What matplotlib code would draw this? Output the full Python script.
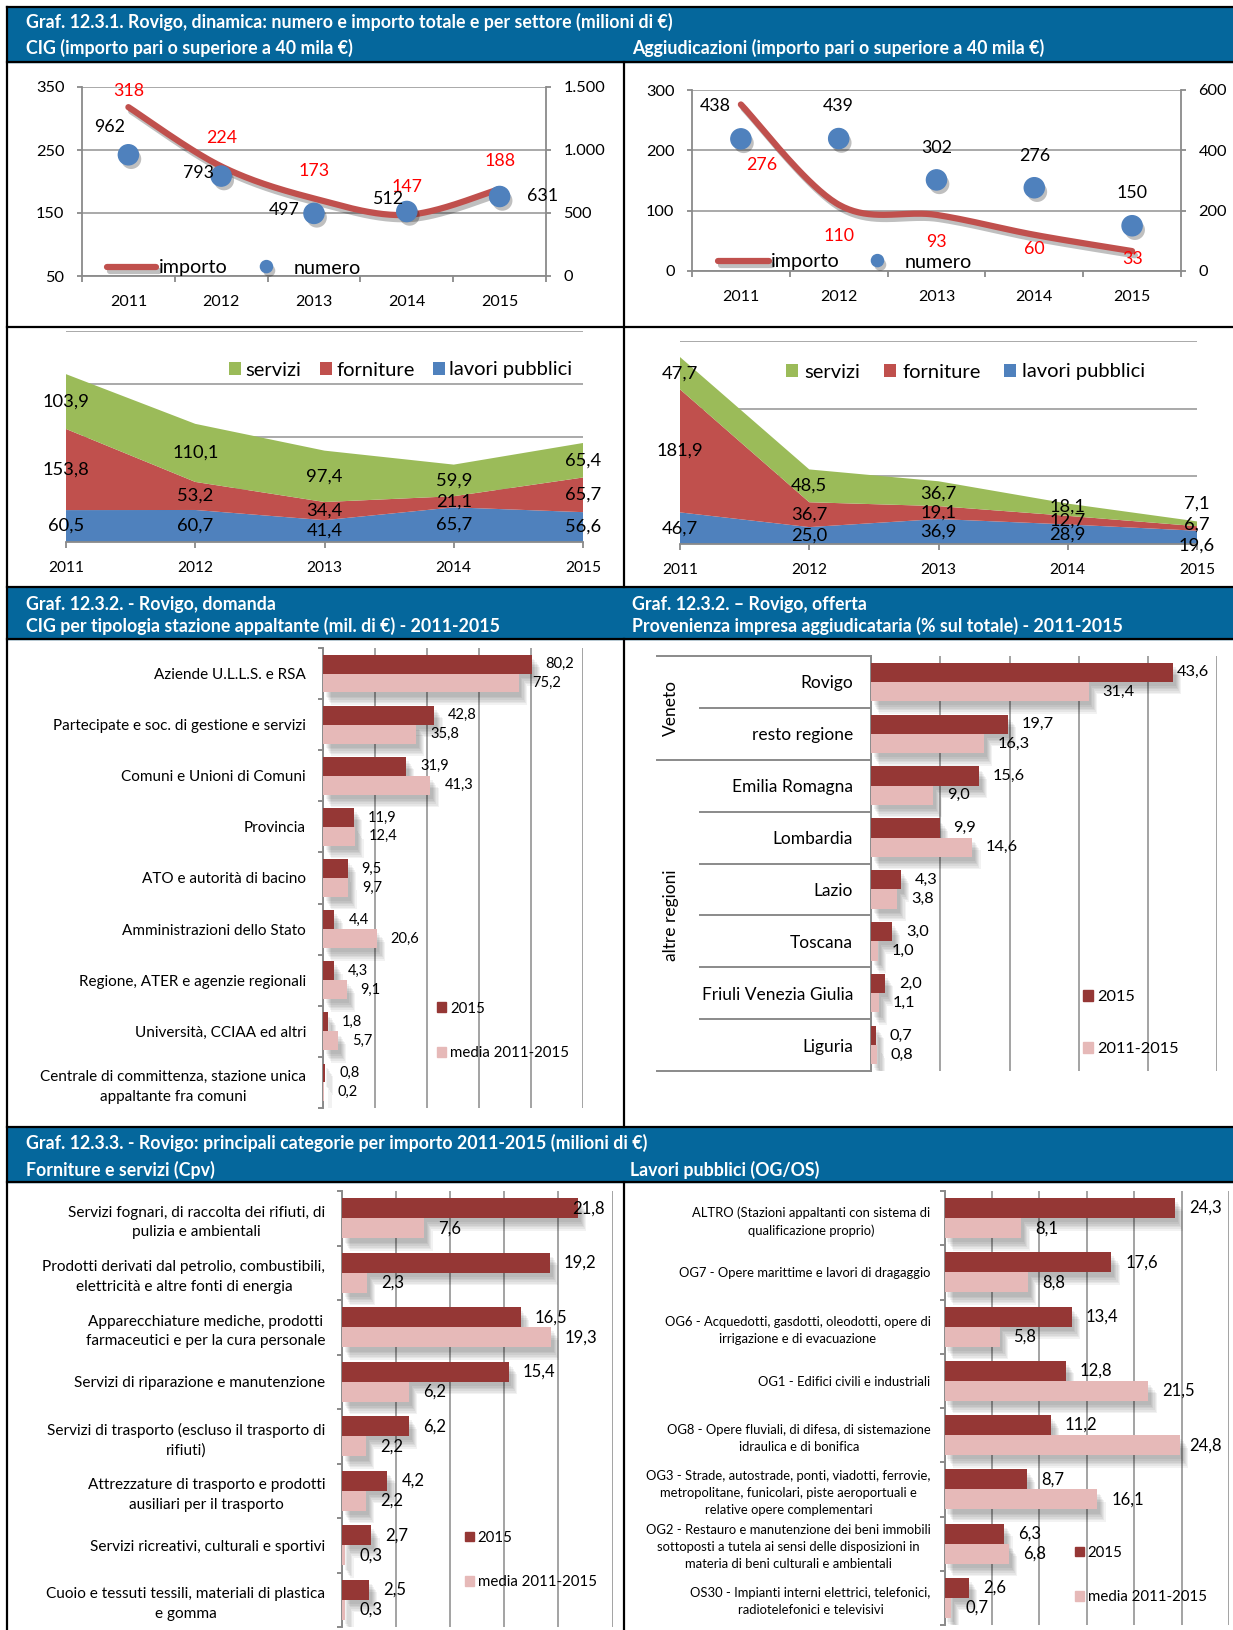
import numpy as np
import matplotlib
matplotlib.use("Agg")
import matplotlib.pyplot as plt
from matplotlib import patheffects as pe
from matplotlib import transforms as mtransforms
from matplotlib.lines import Line2D
from matplotlib.patches import Patch, Rectangle

plt.rcParams["font.family"] = ["Lato", "DejaVu Sans"]

W, H = 1233, 1630

# ---------------- data ----------------
years = ["2011", "2012", "2013", "2014", "2015"]

cig_importo = [318, 224, 173, 147, 188]
cig_numero = [962, 793, 497, 512, 631]
agg_importo = [276, 110, 93, 60, 33]
agg_numero = [438, 439, 302, 276, 150]

cig_lavori = [60.5, 60.7, 41.4, 65.7, 56.6]
cig_forniture = [153.8, 53.2, 34.4, 21.1, 65.7]
cig_servizi = [103.9, 110.1, 97.4, 59.9, 65.4]

agg_lavori = [46.7, 25.0, 36.9, 28.9, 19.6]
agg_forniture = [181.9, 36.7, 19.1, 12.7, 6.7]
agg_servizi = [47.7, 48.5, 36.7, 18.1, 7.1]

stazioni = [
    "Aziende U.L.L.S. e RSA",
    "Partecipate e soc. di gestione e servizi",
    "Comuni e Unioni di Comuni",
    "Provincia",
    "ATO e autorità di bacino",
    "Amministrazioni dello Stato",
    "Regione, ATER e agenzie regionali",
    "Università, CCIAA ed altri",
    "Centrale di committenza, stazione unica\nappaltante fra comuni",
]
stazioni_2015 = [80.2, 42.8, 31.9, 11.9, 9.5, 4.4, 4.3, 1.8, 0.8]
stazioni_media = [75.2, 35.8, 41.3, 12.4, 9.7, 20.6, 9.1, 5.7, 0.2]

provenienza = ["Rovigo", "resto regione", "Emilia Romagna", "Lombardia",
               "Lazio", "Toscana", "Friuli Venezia Giulia", "Liguria"]
provenienza_2015 = [43.6, 19.7, 15.6, 9.9, 4.3, 3.0, 2.0, 0.7]
provenienza_periodo = [31.4, 16.3, 9.0, 14.6, 3.8, 1.0, 1.1, 0.8]
gruppi_regioni = ["Veneto", "altre regioni"]
gruppi_dimensione = [2, 6]

cpv = [
    "Servizi fognari, di raccolta dei rifiuti, di\npulizia e ambientali",
    "Prodotti derivati dal petrolio, combustibili,\nelettricità e altre fonti di energia",
    "Apparecchiature mediche, prodotti\nfarmaceutici e per la cura personale",
    "Servizi di riparazione e manutenzione",
    "Servizi di trasporto (escluso il trasporto di\nrifiuti)",
    "Attrezzature di trasporto e prodotti\nausiliari per il trasporto",
    "Servizi ricreativi, culturali e sportivi",
    "Cuoio e tessuti tessili, materiali di plastica\ne gomma",
]
cpv_2015 = [21.8, 19.2, 16.5, 15.4, 6.2, 4.2, 2.7, 2.5]
cpv_media = [7.6, 2.3, 19.3, 6.2, 2.2, 2.2, 0.3, 0.3]

ogos = [
    "ALTRO (Stazioni appaltanti con sistema di\nqualificazione proprio)",
    "OG7 - Opere marittime e lavori di dragaggio",
    "OG6 - Acquedotti, gasdotti, oleodotti, opere di\nirrigazione e di evacuazione",
    "OG1 - Edifici civili e industriali",
    "OG8 - Opere fluviali, di difesa, di sistemazione\nidraulica e di bonifica",
    "OG3 - Strade, autostrade, ponti, viadotti, ferrovie,\nmetropolitane, funicolari, piste aeroportuali e\nrelative opere complementari",
    "OG2 - Restauro e manutenzione dei beni immobili\nsottoposti a tutela ai sensi delle disposizioni in\nmateria di beni culturali e ambientali",
    "OS30 - Impianti interni elettrici, telefonici,\nradiotelefonici e televisivi",
]
ogos_2015 = [24.3, 17.6, 13.4, 12.8, 11.2, 8.7, 6.3, 2.6]
ogos_media = [8.1, 8.8, 5.8, 21.5, 24.8, 16.1, 6.8, 0.7]

# ---------------- style ----------------
BAND = "#05679c"
LINE_RED = "#c0504d"
MARK_BLUE = "#4f81bd"
AREA_GREEN = "#9bbb59"
AREA_RED = "#c0504d"
AREA_BLUE = "#4f81bd"
BAR_DARK = "#953735"
BAR_PINK = "#e6b9b8"
GRID_GREY = "#a3a3a3"
AXIS_GREY = "#8a8a8a"

BAR_SHADOW = [pe.SimplePatchShadow(offset=(2 + 0.8 * k, -(3 + 1.2 * k)),
                                   shadow_rgbFace="black", alpha=0.05)
              for k in range(6)] + [pe.Normal()]

fig = plt.figure(figsize=(W / 100, H / 100), dpi=100)
fig.patch.set_facecolor("white")


def fx(x):
    return x / W


def fy(y):
    return 1 - y / H


def px_axes(x0, y0, x1, y1):
    return fig.add_axes([x0 / W, 1 - y1 / H, (x1 - x0) / W, (y1 - y0) / H])


def dec(v):
    return f"{v:.1f}".replace(".", ",")


def thousands(v):
    return f"{v:,}".replace(",", ".")


def smooth(xs, ys, n=40):
    pts = np.column_stack([xs, ys]).astype(float)
    P = np.vstack([pts[0], pts, pts[-1]])
    out = []
    t = np.linspace(0, 1, n)[:, None]
    for i in range(1, len(P) - 2):
        p0, p1, p2, p3 = P[i - 1], P[i], P[i + 1], P[i + 2]
        c1 = p1 + (p2 - p0) / 6
        c2 = p2 - (p3 - p1) / 6
        seg = (1 - t) ** 3 * p1 + 3 * (1 - t) ** 2 * t * c1 + 3 * (1 - t) * t ** 2 * c2 + t ** 3 * p2
        out.append(seg if i == 1 else seg[1:])
    return np.vstack(out)


# ---------------- frame and title bands ----------------
for y0, y1 in [(7, 62), (587, 639), (1127, 1182)]:
    fig.add_artist(Rectangle((fx(7), fy(y1)), (W - 7) / W, (y1 - y0) / H,
                             transform=fig.transFigure, color=BAND, zorder=0))


def frame_line(xs, ys):
    fig.add_artist(Line2D([fx(v) for v in xs], [fy(v) for v in ys],
                          color="black", lw=1.6, zorder=10))


for y in [7, 62, 327, 587, 639, 1127, 1182]:
    frame_line([7, W], [y, y])
frame_line([7, 7], [7, H])
for y0, y1 in [(62, 587), (639, 1127), (1182, H)]:
    frame_line([624, 624], [y0, y1])

TITLE_KW = dict(color="white", weight="bold", fontsize=12.8, va="center", ha="left")
fig.text(fx(26), fy(22), "Graf. 12.3.1. Rovigo, dinamica: numero e importo totale e per settore (milioni di €)", **TITLE_KW)
fig.text(fx(26), fy(48), "CIG (importo pari o superiore a 40 mila €)", **TITLE_KW)
fig.text(fx(632), fy(48), "Aggiudicazioni (importo pari o superiore a 40 mila €)", **TITLE_KW)
fig.text(fx(26), fy(604), "Graf. 12.3.2. - Rovigo, domanda", **TITLE_KW)
fig.text(fx(26), fy(626), "CIG per tipologia stazione appaltante (mil. di €) - 2011-2015", **TITLE_KW)
fig.text(fx(632), fy(604), "Graf. 12.3.2. – Rovigo, offerta", **TITLE_KW)
fig.text(fx(632), fy(626), "Provenienza impresa aggiudicataria (% sul totale) - 2011-2015", **TITLE_KW)
fig.text(fx(26), fy(1143), "Graf. 12.3.3. - Rovigo: principali categorie per importo 2011-2015 (milioni di €)", **TITLE_KW)
fig.text(fx(26), fy(1170), "Forniture e servizi (Cpv)", **TITLE_KW)
fig.text(fx(630), fy(1170), "Lavori pubblici (OG/OS)", **TITLE_KW)


# ---------------- line + marker panels ----------------
def line_panel(box, importo, numero, lim_l, ticks_l, lim_r, ticks_r,
               off_imp, off_num, leg_anchor, leg_kw):
    ax = px_axes(*box)
    ax2 = ax.twinx()
    x = np.arange(len(years))
    for a in (ax, ax2):
        a.set_xlim(-0.5, len(years) - 0.5)
        for s in a.spines.values():
            s.set_visible(False)
    ax.set_ylim(*lim_l)
    ax2.set_ylim(*lim_r)
    ax.set_yticks(ticks_l, labels=[thousands(t) for t in ticks_l])
    ax2.set_yticks(ticks_r, labels=[thousands(t) for t in ticks_r])
    for s in (ax.spines["left"], ax.spines["bottom"], ax2.spines["right"]):
        s.set_visible(True)
        s.set_color(AXIS_GREY)
        s.set_linewidth(1.3)
    ax.yaxis.grid(True, color=GRID_GREY, lw=1.3)
    ax.set_axisbelow(True)
    ax.set_xticks(x, labels=years)
    ax.set_xticks(np.arange(-0.5, len(years)), minor=True)
    ax.tick_params(axis="x", which="major", length=0, pad=13.5, labelsize=11.5)
    ax.tick_params(axis="x", which="minor", length=4.5, width=1.3, color=AXIS_GREY)
    for a in (ax, ax2):
        a.tick_params(axis="y", length=3.6, width=1.3, color=AXIS_GREY, pad=9, labelsize=11.8)

    curve = smooth(x, importo)
    ln, = ax.plot(curve[:, 0], curve[:, 1], color=LINE_RED, lw=4.5,
                  solid_capstyle="round", zorder=3,
                  path_effects=[pe.SimpleLineShadow(offset=(2, -3), shadow_color="black", alpha=0.25),
                                pe.Normal()])
    mk, = ax2.plot(x, numero, ls="none", marker="o", ms=14.5, mfc=MARK_BLUE, mec=MARK_BLUE,
                   zorder=4,
                   path_effects=[pe.SimplePatchShadow(offset=(2, -3), shadow_rgbFace="black", alpha=0.25),
                                 pe.Normal()])
    for i, v in enumerate(importo):
        ax2.annotate(str(v), (x[i], (v - lim_l[0]) / (lim_l[1] - lim_l[0]) * (lim_r[1] - lim_r[0]) + lim_r[0]),
                     xytext=off_imp[i], textcoords="offset pixels",
                     ha="center", va="center", color="red", fontsize=12.8, zorder=6)
    for i, v in enumerate(numero):
        ax2.annotate(str(v), (x[i], v), xytext=off_num[i], textcoords="offset pixels",
                     ha="center", va="center", color="black", fontsize=12.8, zorder=6)
    ax2.legend([ln, mk], ["importo", "numero"], loc="center left",
               bbox_to_anchor=(fx(leg_anchor[0]), fy(leg_anchor[1])),
               bbox_transform=fig.transFigure, ncol=2, frameon=False,
               borderpad=0, borderaxespad=0, fontsize=14.2, markerscale=0.6, **leg_kw)


line_panel((82, 87, 546, 276), cig_importo, cig_numero,
           (50, 350), [50, 150, 250, 350], (0, 1500), [0, 500, 1000, 1500],
           off_imp=[(0, 16), (0, 28), (0, 28), (0, 28), (0, 28)],
           off_num=[(-19, 28), (-23, 3), (-30, 3), (-19.5, 12), (43, 0)],
           leg_anchor=(107, 268),
           leg_kw=dict(handlelength=2.5, handletextpad=0.15, columnspacing=0.7))

line_panel((692, 90, 1181, 271), agg_importo, agg_numero,
           (0, 300), [0, 100, 200, 300], (0, 600), [0, 200, 400, 600],
           off_imp=[(21, -61), (0, -31), (0, -27), (0, -14), (0, -8)],
           off_num=[(-26, 33), (0, 33), (0, 32), (0, 32), (0, 33)],
           leg_anchor=(718, 262),
           leg_kw=dict(handlelength=2.6, handletextpad=0.1, columnspacing=0.6))


# ---------------- stacked area panels ----------------
def area_panel(box, lavori, forniture, servizi, ymax, shifts, leg_anchor, colspacing, textpad):
    ax = px_axes(*box)
    x = np.arange(len(years))
    series = [lavori, forniture, servizi]
    polys = ax.stackplot(x, *series, colors=[AREA_BLUE, AREA_RED, AREA_GREEN], lw=0, zorder=2)
    ax.set_xlim(0, len(years) - 1)
    ax.set_ylim(0, ymax)
    ax.set_yticks(np.arange(100, ymax + 1, 100))
    ax.yaxis.grid(True, color=GRID_GREY, lw=1.3)
    ax.set_axisbelow(True)
    ax.tick_params(axis="y", left=False, labelleft=False)
    for s in ("left", "right", "top"):
        ax.spines[s].set_visible(False)
    ax.spines["bottom"].set_color(AXIS_GREY)
    ax.spines["bottom"].set_linewidth(1.3)
    ax.set_xticks(x, labels=years)
    ax.tick_params(axis="x", length=4, width=1.3, color=AXIS_GREY, pad=9.5, labelsize=11.2)
    base = np.zeros(len(years))
    for k, s in enumerate(series):
        s = np.asarray(s, float)
        mid = base + s / 2
        for i in range(len(years)):
            ax.annotate(dec(s[i]), (x[i], mid[i]), xytext=(0, shifts.get((k, i), 0)),
                        textcoords="offset pixels", ha="center", va="center",
                        fontsize=13.2, annotation_clip=False, zorder=5)
        base += s
    ax.legend([polys[2], polys[1], polys[0]], ["servizi", "forniture", "lavori pubblici"],
              loc="center left", bbox_to_anchor=(fx(leg_anchor[0]), fy(leg_anchor[1])),
              bbox_transform=fig.transFigure, ncol=3, frameon=False, borderpad=0,
              borderaxespad=0, fontsize=14.5, handlelength=0.62, handleheight=0.62,
              handletextpad=textpad, columnspacing=colspacing)


area_panel((66, 331, 583, 542), cig_lavori, cig_forniture, cig_servizi, 400, {},
           leg_anchor=(229, 370), colspacing=0.9, textpad=0.2)
area_panel((680, 341, 1197, 544), agg_lavori, agg_forniture, agg_servizi, 300,
           {(0, 4): -8, (1, 4): 4, (2, 4): 20, (2, 3): 3},
           leg_anchor=(786, 372), colspacing=1.15, textpad=0.3)


# ---------------- horizontal bar panels ----------------
def bar_panel(box, cats, v_a, v_b, xmax, step, cat_fs, cat_pad, val_fs, leg_labels,
              leg_anchor, leg_fs, leg_spacing, pad_over=None, boundary_ticks=True,
              linespacing=1.4):
    pad_over = pad_over or {}
    ax = px_axes(*box)
    n = len(cats)
    y = np.arange(n)
    h = 0.37
    ax.barh(y - h / 2, v_a, height=h, color=BAR_DARK, zorder=3, path_effects=BAR_SHADOW)
    ax.barh(y + h / 2, v_b, height=h, color=BAR_PINK, zorder=3, path_effects=BAR_SHADOW)
    ax.set_xlim(0, xmax)
    ax.set_ylim(n - 0.5, -0.5)
    ax.set_xticks(np.arange(0, xmax + 0.001, step))
    ax.tick_params(axis="x", length=0, labelbottom=False)
    ax.xaxis.grid(True, color=AXIS_GREY, lw=1.1)
    ax.set_axisbelow(True)
    for s in ("right", "top", "bottom"):
        ax.spines[s].set_visible(False)
    ax.spines["left"].set_color(AXIS_GREY)
    ax.spines["left"].set_linewidth(1.4)
    ax.set_yticks(y, labels=cats)
    ax.tick_params(axis="y", which="major", length=0, pad=cat_pad, labelsize=cat_fs)
    for lab in ax.get_yticklabels():
        lab.set_multialignment("center")
        lab.set_linespacing(linespacing)
    if boundary_ticks:
        ax.set_yticks(np.arange(-0.5, n), minor=True)
        ax.tick_params(axis="y", which="minor", length=3.6, width=1.4, color=AXIS_GREY)
    for j, (vals, off) in enumerate([(v_a, -h / 2), (v_b, h / 2)]):
        for i, v in enumerate(vals):
            ax.annotate(dec(v), (v, i + off), xytext=(pad_over.get((j, i), 14), 0),
                        textcoords="offset pixels", ha="left", va="center",
                        fontsize=val_fs, annotation_clip=False, zorder=5)
    ax.legend([Patch(color=BAR_DARK), Patch(color=BAR_PINK)], leg_labels,
              loc="center left", bbox_to_anchor=(fx(leg_anchor[0]), fy(leg_anchor[1])),
              bbox_transform=fig.transFigure, frameon=False, borderpad=0, borderaxespad=0,
              fontsize=leg_fs, handlelength=0.63, handleheight=0.63, handletextpad=0.25,
              labelspacing=leg_spacing)
    return ax


bar_panel((323, 648, 583, 1108), stazioni, stazioni_2015, stazioni_media, 100, 20,
          cat_fs=11, cat_pad=12.2, val_fs=10.5, leg_labels=["2015", "media 2011-2015"],
          leg_anchor=(437, 1031), leg_fs=10.8, leg_spacing=2.05, linespacing=1.55)

axF = bar_panel((871, 656, 1217.5, 1071), provenienza, provenienza_2015, provenienza_periodo,
                50, 10, cat_fs=12.5, cat_pad=13, val_fs=11.8, leg_labels=["2015", "2011-2015"],
                leg_anchor=(1082.5, 1023), leg_fs=11.8, leg_spacing=2.3,
                pad_over={(0, 0): 4}, boundary_ticks=False)

# table rules and region groups beside the offerta bars
trF = mtransforms.blended_transform_factory(axF.transAxes, axF.transData)
group_edges = np.concatenate([[0], np.cumsum(gruppi_dimensione)]) - 0.5
for b in np.arange(-0.5, len(provenienza)):
    x0 = -0.6176 if np.any(np.isclose(b, group_edges)) else -0.4935
    axF.plot([x0, 0], [b, b], transform=trF, color=AXIS_GREY, lw=1.4, clip_on=False)
for name, lo, hi in zip(gruppi_regioni, group_edges[:-1], group_edges[1:]):
    axF.text(-0.577, (lo + hi) / 2, name, transform=trF, rotation=90,
             ha="center", va="center", fontsize=12.5)

bar_panel((342, 1191, 612.5, 1627), cpv, cpv_2015, cpv_media, 25, 5,
          cat_fs=11.1, cat_pad=12, val_fs=12, leg_labels=["2015", "media 2011-2015"],
          leg_anchor=(464.6, 1560), leg_fs=10.8, leg_spacing=2.02,
          pad_over={(0, 0): -6}, linespacing=1.5)

bar_panel((944.5, 1191, 1229, 1625), ogos, ogos_2015, ogos_media, 30, 5,
          cat_fs=9.4, cat_pad=10, val_fs=12, leg_labels=["2015", "media 2011-2015"],
          leg_anchor=(1074.6, 1575), leg_fs=10.8, leg_spacing=2.02,
          pad_over={(1, 4): 10}, linespacing=1.5)

fig.savefig("out.png", dpi=100)
